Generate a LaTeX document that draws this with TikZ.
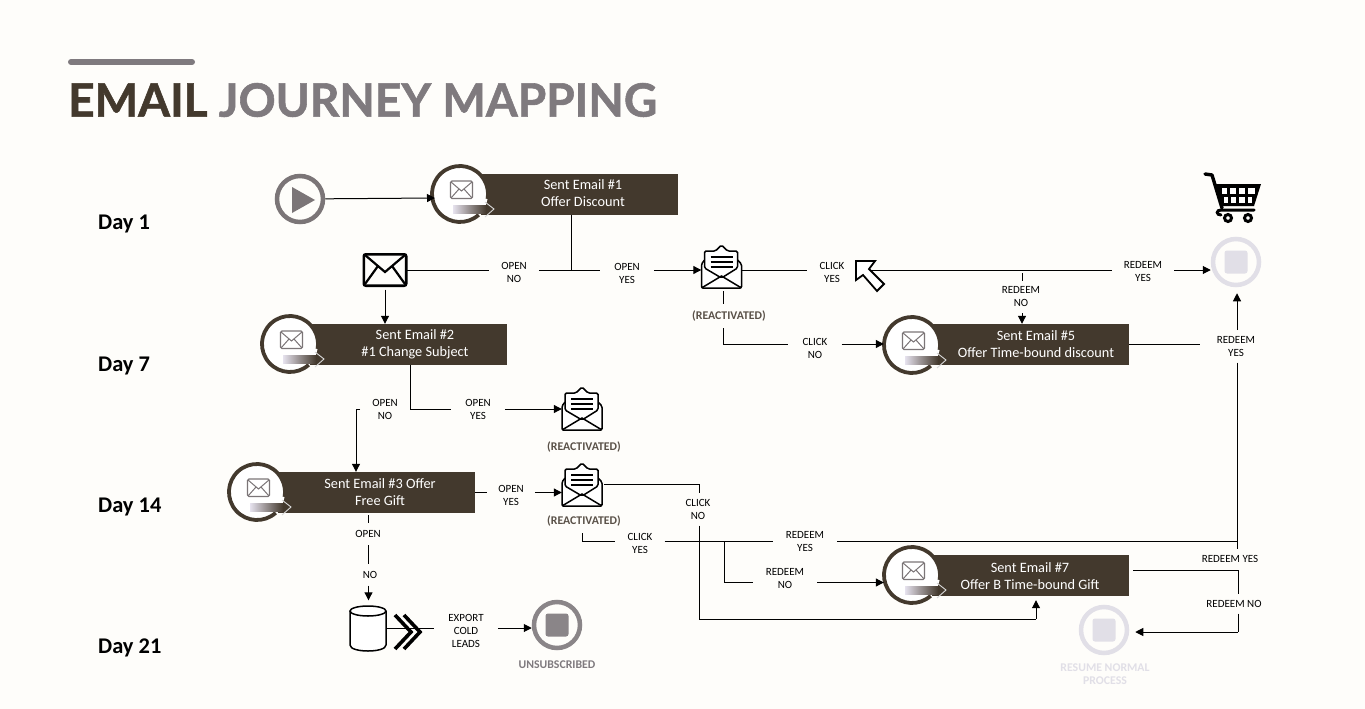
\documentclass[tikz,border=0pt]{standalone}
\usepackage{fontspec}
\setmainfont{Carlito}
\newfontfamily\titlefont{Lato}[BoldFeatures={FakeBold=1.2}]
\usetikzlibrary{arrows.meta}
\definecolor{pagebg}{HTML}{FEFDFA}
\definecolor{boxbrown}{HTML}{43392D}
\definecolor{titlegray}{HTML}{7F7A7E}
\definecolor{ringgray}{HTML}{7B7577}
\definecolor{stopgray}{HTML}{8A8588}
\definecolor{stoplight}{HTML}{E1DFE7}
\definecolor{tagbrown}{HTML}{5A5148}
\definecolor{shaftpale}{HTML}{E6E2EE}
\begin{document}
\begin{tikzpicture}[
	x=1pt,y=-1pt,
	edge/.style={draw=black,line width=1pt},
	arr/.style={edge,-{Triangle[length=8pt,width=8pt]}},
	lbl/.style={font=\fontsize{11}{13}\selectfont,align=center,inner xsep=12pt,inner ysep=6pt,yshift=-0.8pt},
	tag/.style={font=\fontsize{11.8}{13}\selectfont\bfseries,text=tagbrown,inner xsep=0pt,inner ysep=7pt},
	day/.style={font=\fontsize{22.4}{24}\selectfont\bfseries,text=black,anchor=west,inner sep=0pt},
	boxrect/.style={fill=boxbrown,inner sep=0pt,minimum height=41pt},
	boxtext/.style={font=\fontsize{14.3}{17}\selectfont,text=white,align=center,inner sep=0pt},
	ringnode/.style={circle,fill=white,inner sep=0pt,minimum size=56pt},
	stopring/.style={circle,draw,fill=pagebg,line width=4.5pt,inner sep=0pt,minimum size=46pt},
	stopsq/.style={rounded corners=2.5pt,inner sep=0pt,minimum size=23pt},
	iconbox/.style={inner sep=0pt},
	mailring/.pic={
		\draw[boxbrown,line width=3.8pt] (18.7,20.8) arc [start angle=48,end angle=370,radius=28];
		\draw[rounded corners=1.5pt,line width=1.3pt,draw=ringgray,fill=white] (-9.5,-13) rectangle (12.5,4.5);
		\draw[line width=1pt,ringgray] (-9,-12) -- (1.5,-3) -- (12,-12) (-9,4) -- (-1,-5) (12,4) -- (4,-5);
		\shade[left color=shaftpale,right color=boxbrown] (-7,11) rectangle (26,19);
		\draw[draw=white!85!black,line width=.9pt] (25,8) -- (34,15) -- (25,23);
	},
	openmail/.pic={
		\draw[line width=1.5pt,fill=white,rounded corners=1.5pt] (-17,-8) -- (-20,-4) -- (-20,20) -- (20,20) -- (20,-4) -- (16,-8);
		\draw[line width=1.5pt,fill=white,rounded corners=1.5pt] (-17,0) -- (-17,-17) -- (-6,-17) -- (0,-23) -- (6,-17) -- (16,-17) -- (16,0) -- (0,10) -- cycle;
		\foreach \ly in {-11,-6,-1} {\draw[line width=1.5pt] (-11,\ly) -- (11,\ly);}
		\draw[line width=1.5pt] (-20,20) -- (0,8) -- (20,20);
	}
	]
	\fill[pagebg] (0,0) rectangle (1365,709);
	% heading
	\draw[titlegray,line width=6pt,line cap=round] (71,62) -- (192,62);
	\node[font=\titlefont\fontsize{46}{52}\selectfont\bfseries,anchor=west,inner sep=0pt] (title) at (68,100)
		{\textcolor{boxbrown}{EMAIL} \textcolor{titlegray}{JOURNEY MAPPING}};
	\node[day] (day1) at (98,224) {Day 1};
	\node[day] (day7) at (98,366) {Day 7};
	\node[day] (day14) at (98,507) {Day 14};
	\node[day] (day21) at (98,648) {Day 21};

	% start
	\node[stopring,draw=ringgray] (play) at (300,199) {};
	\fill[ringgray] (292,187) -- (315,200) -- (292,213) -- cycle;

	% email boxes
	\node[boxrect,minimum width=197pt] (box1) at (579.5,194) {};
	\node[ringnode] (ring1) at (460,194) {}; \pic at (ring1) {mailring};
	\node[boxtext] (text1) at (583,193) {Sent Email \#1\\Offer Discount};
	\node[boxrect,minimum width=197pt] (box2) at (408.5,344.5) {};
	\node[ringnode] (ring2) at (290,344) {}; \pic at (ring2) {mailring};
	\node[boxtext] (text2) at (415,344) {Sent Email \#2\\\#1 Change Subject};
	\node[boxrect,minimum width=197pt] (box3) at (376.5,492.5) {};
	\node[ringnode] (ring3) at (257,492) {}; \pic at (ring3) {mailring};
	\node[boxtext] (text3) at (380,492) {Sent Email \#3 Offer\\Free Gift};
	\node[boxrect,minimum width=197pt] (box5) at (1030.5,344.5) {};
	\node[ringnode] (ring5) at (912,345) {}; \pic at (ring5) {mailring};
	\node[boxtext] (text5) at (1036,344) {Sent Email \#5\\Offer Time-bound discount};
	\node[boxrect,minimum width=197pt] (box7) at (1030.5,575.5) {};
	\node[ringnode] (ring7) at (912,575) {}; \pic at (ring7) {mailring};
	\node[boxtext] (text7) at (1030,576) {Sent Email \#7\\Offer B Time-bound Gift};

	% icons
	\node[iconbox,minimum width=42pt,minimum height=31pt] (mailA) at (385,270) {};
	\draw[line width=2.6pt,rounded corners=2pt] (mailA.north west) rectangle (mailA.south east);
	\draw[line width=2.2pt] (365,255) -- (385,272) -- (405,255) (365,284) -- (378,266) (405,284) -- (392,266);
	\node[iconbox,minimum width=40pt,minimum height=46pt] (reactA) at (721.5,268) {}; \pic at (reactA) {openmail};
	\node[iconbox,minimum width=40pt,minimum height=46pt] (reactB) at (582,410) {}; \pic at (reactB) {openmail};
	\node[iconbox,minimum width=40pt,minimum height=46pt] (reactC) at (582,486) {}; \pic at (reactC) {openmail};
	\node[tag] (tagA) at (729,316) {(REACTIVATED)};
	\node[tag] (tagB) at (584,447) {(REACTIVATED)};
	\node[tag] (tagC) at (584,521) {(REACTIVATED)};

	% end points
	\node[stopring,draw=stoplight] (stopA) at (1236,262) {};
	\node[stopsq,fill=stoplight] (stopAin) at (stopA) {};
	\node[stopring,draw=stoplight] (stopB) at (1104,630) {};
	\node[stopsq,fill=stoplight] (stopBin) at (stopB) {};
	\node[stopring,draw=stopgray] (stopC) at (557,625) {};
	\node[stopsq,fill=stopgray] (stopCin) at (stopC) {};
	\node[tag,text=titlegray] (tagU) at (557,665) {UNSUBSCRIBED};
	\node[tag,text=stoplight,align=center] (tagN) at (1105,674) {RESUME NORMAL\\PROCESS};

	% cart
	\draw[line width=3.4pt,line cap=round,line join=round] (1205,174) -- (1212,175) -- (1222,208);
	\fill (1216,184) -- (1261,184) -- (1254,206) -- (1222,206) -- cycle;
	\foreach \cx/\cw in {1222/5,1230/6,1239/6,1248/7} {\fill[white] (\cx,188) rectangle ++(\cw,6);}
	\foreach \cx/\cw in {1224/4,1231/5,1239/6,1248/4} {\fill[white] (\cx,197) rectangle ++(\cw,6);}
	\draw[line width=3pt,line cap=round] (1254,210) -- (1221,210) .. controls (1216,210) and (1216,215) .. (1221,215);
	\draw[line width=3pt,fill=white] (1228,218) circle (3.5) (1248,218) circle (3.5);

	% data store
	\node[iconbox,minimum width=36pt,minimum height=45pt] (cylU) at (368,628) {};
	\draw[line width=1.5pt,fill=white] (350,611) -- (350,645) .. controls (350,653) and (386,653) .. (386,645) -- (386,611);
	\draw[line width=1.5pt,fill=white] (368,611) ellipse [x radius=18,y radius=5];

	% labels
	\node[lbl] (noA) at (514,271.5) {OPEN\\NO};
	\node[lbl,inner xsep=14pt] (yesA) at (627,273) {OPEN\\YES};
	\node[lbl] (clickYesA) at (832,272) {CLICK\\YES};
	\node[lbl] (redeemYesA) at (1143,271) {REDEEM\\YES};
	\node[lbl] (redeemNoE) at (1021,296) {REDEEM\\NO};
	\node[lbl,inner xsep=14pt] (clickNoA) at (815,347.5) {CLICK\\NO};
	\node[lbl,inner xsep=17pt] (redeemYesE) at (1236,345.5) {REDEEM\\YES};
	\node[lbl] (noB) at (385,408.5) {OPEN\\NO};
	\node[lbl,inner xsep=14pt] (yesB) at (478,408.5) {OPEN\\YES};
	\node[lbl,inner xsep=11pt] (yesC) at (511,494.5) {OPEN\\YES};
	\node[lbl,inner ysep=7pt] (noC) at (368,533.5) {OPEN};
	\node[lbl,inner ysep=7pt] (noD) at (370,574) {NO};
	\node[lbl] (clickNoC) at (698,508.5) {CLICK\\NO};
	\node[lbl] (clickYesC) at (640,542.5) {CLICK\\YES};
	\node[lbl,inner xsep=13pt] (redeemYesG) at (805,540.5) {REDEEM\\YES};
	\node[lbl,inner xsep=13pt] (redeemNoG) at (785,578) {REDEEM\\NO};
	\node[lbl] (redeemYesH) at (1230,558) {REDEEM YES};
	\node[lbl] (redeemNoH) at (1234,603) {REDEEM NO};
	\node[lbl,inner xsep=14pt] (exportU) at (466,630) {EXPORT\\COLD\\LEADS};

	% junctions
	\coordinate (jS) at (435,198);
	\coordinate (jA) at (571,270);
	\coordinate (jF) at (721,270);
	\coordinate (jCursor) at (868,270);
	\coordinate (jR) at (1022,270);
	\coordinate (jH) at (723,344);
	\coordinate (jL) at (1237,344);
	\coordinate (jE) at (410,409);
	\coordinate (jE2) at (356,409);
	\coordinate (jV) at (368.5,515);
	\coordinate (jM) at (699,484);
	\coordinate (jN) at (699,619);
	\coordinate (jO) at (1036,619);
	\coordinate (jP) at (582,541.5);
	\coordinate (jB) at (1237,541.5);
	\coordinate (jQ) at (724,541.5);
	\coordinate (jQ2) at (724,582.5);
	\coordinate (jC) at (1238,570);
	\coordinate (jD) at (1238,632);
	\coordinate (jU) at (433,628);

	% connectors
	\draw[arr] (play) -- (jS);
	\draw[edge] (box1.south -| jA) -- (jA);
	\draw[edge] (mailA) -- (noA.west |- jA);
	\draw[edge] (noA.east |- jA) -- (yesA.west |- jA);
	\draw[arr] (yesA.east |- jA) -- (reactA.west |- jA);
	\draw[arr,shorten <=4pt] (mailA.south) -- (mailA.south |- box2.north);
	\draw[edge] (reactA.east |- jF) -- (clickYesA.west |- jF);
	\draw[edge] (jCursor) -- (redeemYesA.west |- jF);
	\draw[arr] (redeemYesA.east |- jF) -- (stopA.west |- jF);
	\draw[edge,shorten <=3pt] (jR) -- (redeemNoE.north -| jR);
	\draw[arr] (redeemNoE.south -| jR) -- (box5.north -| jR);
	\draw[edge] (reactA.south -| jH) -- (tagA.north -| jH);
	\draw[edge] (tagA.south -| jH) -- (jH) -- (clickNoA.west |- jH);
	\draw[arr] (clickNoA.east |- jH) -- (ring5.west |- jH);
	\draw[edge] (box5.east |- jL) -- (redeemYesE.west |- jL);
	\draw[arr,shorten >=6pt] (redeemYesE.north -| jL) -- (stopA.south -| jL);
	\draw[edge] (redeemYesE.south -| jL) -- (jB);
	\draw[edge] (box2.south -| jE) -- (jE) -- (yesB.west |- jE);
	\draw[arr] (yesB.east |- jE) -- (reactB.west |- jE);
	\draw[edge] (jE) -- (noB.east |- jE);
	\draw[edge] (noB.west |- jE) -- (jE2);
	\draw[arr] (jE2) -- (jE2 |- box3.north);
	\draw[edge] (box3.east) -- (yesC.west |- box3.east);
	\draw[arr] (yesC.east |- box3.east) -- (reactC.west |- box3.east);
	\draw[edge] (jV) -- (noC.north -| jV);
	\draw[edge] (noC.south -| jV) -- (noD.north -| jV);
	\draw[arr,shorten >=5pt] (noD.south -| jV) -- (cylU.north -| jV);
	\draw[edge] (cylU.east) -- (exportU.west |- jU);
	\draw[arr] (exportU.east |- jU) -- (stopC.west |- jU);
	\draw[edge,shorten <=2pt] (reactC.east |- jM) -- (jM) -- (clickNoC.north -| jM);
	\draw[edge] (clickNoC.south -| jM) -- (jN) -- (jO);
	\draw[arr,shorten >=4pt] (jO) -- (jO |- box7.south);
	\draw[edge] (tagC.south -| jP) -- (jP) -- (clickYesC.west |- jP);
	\draw[edge] (clickYesC.east |- jP) -- (redeemYesG.west |- jP);
	\draw[edge] (redeemYesG.east |- jP) -- (jB);
	\draw[edge] (jB) -- (redeemYesH.north -| jB);
	\draw[edge] (jQ) -- (jQ2) -- (redeemNoG.west |- jQ2);
	\draw[arr] (redeemNoG.east |- jQ2) -- (ring7.west |- jQ2);
	\draw[edge,shorten <=4pt] (box7.east |- jC) -- (jC) -- (redeemNoH.north -| jC);
	\draw[edge] (redeemNoH.south -| jC) -- (jD);
	\draw[arr,shorten >=6pt] (jD) -- (stopB.east |- jD);

	% chevrons and cursor go on top of the lines
	\draw[line width=3.6pt,miter limit=10] (395,615) -- (411,632) -- (395,649) (404,615) -- (420,632) -- (404,649);
	\draw[fill=white,line width=1.8pt,line join=miter] (856,261) -- (875,261) -- (869,269) -- (884,284) -- (877,291) -- (863,275) -- (856,280) -- cycle;
	\end{tikzpicture}
\end{document}
